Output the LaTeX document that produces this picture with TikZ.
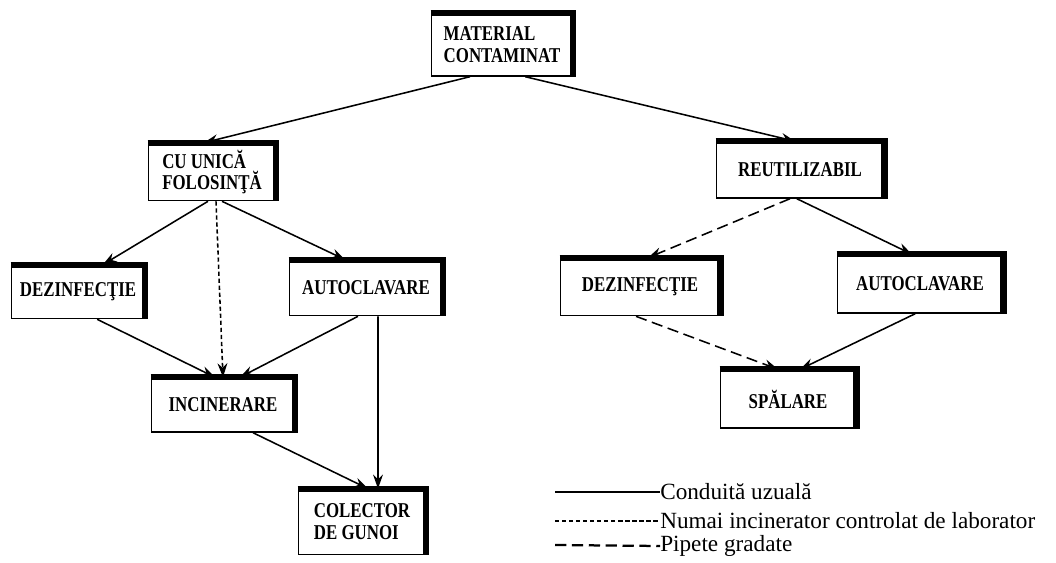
\documentclass[tikz,border=0pt]{standalone}
\usepackage{fontspec}
\setmainfont{Liberation Serif}
\newfontfamily\boxfont[FakeStretch=0.8]{Liberation Serif}
\usetikzlibrary{arrows.meta}
\def\heavyedge(#1){\draw[line width=4.5pt, line join=miter] (#1.north west) -- (#1.north east) -- (#1.south east);}
\tikzset{
	box/.style={draw, line width=1pt, fill=white, align=left, inner sep=0pt,
		font=\boxfont\bfseries\fontsize{15}{15.5}\selectfont},
	arr/.style={line width=1.1pt, -{Stealth[length=10pt, width=7pt]}},
	dotarr/.style={arr, dash pattern=on 3pt off 2pt},
	dasharr/.style={arr, dash pattern=on 8pt off 4pt},
	legtext/.style={anchor=west, inner sep=0pt, font=\fontsize{16.5}{18}\selectfont}
}

\begin{document}
\begin{tikzpicture}[x=0.025cm, y=-0.025cm]
			%%%%% START %%%%%
			\useasboundingbox (0, 0) rectangle (1056, 563);
			
			\node[box, minimum width=3.53cm, minimum height=1.55cm] (mc) at (502, 45) {MATERIAL\\CONTAMINAT};
			\heavyedge(mc)
			
			% left branch
			\node[box, minimum width=3.18cm, minimum height=1.43cm] (cu) at (212, 172) {CU UNICĂ\\FOLOSINŢĂ};
			\heavyedge(cu)
			\node[box, minimum width=3.33cm, minimum height=1.33cm] (dezl) at (78, 292) {DEZINFECŢIE};
			\heavyedge(dezl)
			\node[box, minimum width=3.83cm, minimum height=1.38cm] (autol) at (366, 288) {AUTOCLAVARE};
			\heavyedge(autol)
			\node[box, minimum width=3.58cm, minimum height=1.35cm] (inc) at (223, 405) {INCINERARE};
			\heavyedge(inc)
			\node[box, minimum width=3.18cm, minimum height=1.63cm] (col) at (362, 522) {COLECTOR\\DE GUNOI};
			\heavyedge(col)
			
			% right branch
			\node[box, minimum width=4.18cm, minimum height=1.4cm] (reut) at (800, 170) {REUTILIZABIL};
			\heavyedge(reut)
			\node[box, minimum width=3.98cm, minimum height=1.43cm] (dezr) at (640, 287) {DEZINFECŢIE};
			\heavyedge(dezr)
			\node[box, minimum width=4.13cm, minimum height=1.45cm] (autor) at (920, 284) {AUTOCLAVARE};
			\heavyedge(autor)
			\node[box, minimum width=3.38cm, minimum height=1.45cm] (spal) at (788, 399) {SPĂLARE};
			\heavyedge(spal)
			
			\draw[arr] ([xshift=-0.8cm]mc.south) -- ([xshift=-0.2cm]cu.north);
			\draw[arr] ([xshift=0.58cm]mc.south) -- ([xshift=-0.12cm]reut.north);
			
			\draw[arr] ([xshift=-0.1cm]cu.south) -- ([xshift=0.62cm]dezl.north);
			\draw[dotarr] ([xshift=0.1cm]cu.south) -- ([xshift=0cm]inc.north);
			\draw[arr] ([xshift=0.25cm]cu.south) -- ([xshift=-0.52cm]autol.north);
			\draw[arr] ([xshift=0.48cm]dezl.south) -- ([xshift=-0.2cm]inc.north);
			\draw[arr] ([xshift=-0.2cm]autol.south) -- ([xshift=0.42cm]inc.north);
			\draw[arr] ([xshift=0.3cm]autol.south) -- ([xshift=0.4cm]col.north);
			\draw[arr] ([xshift=0.75cm]inc.south) -- ([xshift=0.15cm]col.north);
			
			\draw[dasharr] ([xshift=-0.25cm]reut.south) -- ([xshift=0.2cm]dezr.north);
			\draw[arr] ([xshift=-0.08cm]reut.south) -- ([xshift=-0.2cm]autor.north);
			\draw[dasharr] ([xshift=-0.1cm]dezr.south) -- ([xshift=-0.25cm]spal.north);
			\draw[arr] ([xshift=-0.12cm]autor.south) -- ([xshift=0.3cm]spal.north);
			
			% legend
			\coordinate (l1) at (555, 492);
			\coordinate (l2) at (555, 521);
			\coordinate (l3) at (555, 545);
			\node[legtext] (t1) at (660, 492) {Conduită uzuală};
			\node[legtext] (t2) at (660, 521) {Numai incinerator controlat de laborator};
			\node[legtext] (t3) at (660, 546) {Pipete gradate};
			\draw[line width=1.2pt] (l1) -- (t1.west);
			\draw[line width=1.5pt, dash pattern=on 3pt off 2pt] (l2) -- (t2.west);
			\draw[line width=1.6pt, dash pattern=on 8pt off 4pt] (l3) -- (t3.west);
			%%%%% END %%%%%
\end{tikzpicture}
\end{document}
